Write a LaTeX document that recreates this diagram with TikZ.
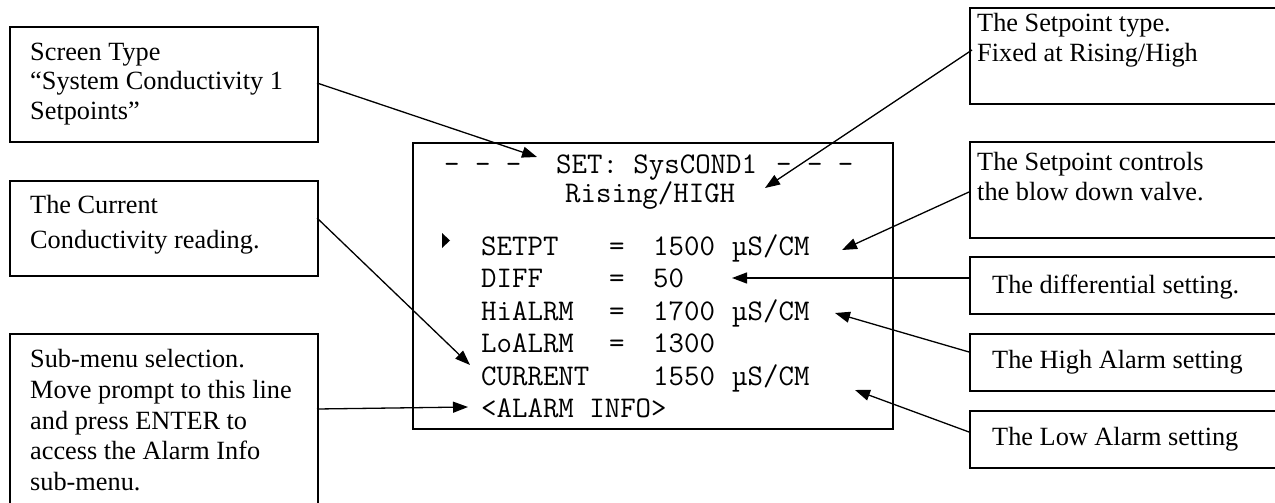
\documentclass[tikz,border=0pt]{standalone}
\usepackage{fontspec}
\setmainfont{Liberation Serif}
\usetikzlibrary{arrows.meta}
\begin{document}
\begin{tikzpicture}[x=1pt,y=-1pt,
  box/.style={draw,line width=1.8pt,rectangle,inner sep=0pt},
  lbl/.style={anchor=base west,inner sep=0pt,font=\fontsize{26.3}{30}\selectfont},
  mono/.style={anchor=base west,inner sep=0pt,font=\fontsize{30}{32}\ttfamily},
  arr/.style={line width=1.3pt,-{Triangle[length=15pt,width=11pt]}}]
\useasboundingbox (0,0) rectangle (1275,503);
% boxes
\node[box,anchor=north west,minimum width=308pt,minimum height=115pt] (A) at (9,26) {};
\node[box,anchor=north west,minimum width=308pt,minimum height=95pt] (B) at (9,180) {};
\node[box,anchor=north west,minimum width=308pt,minimum height=190pt] (C) at (9,333) {};
\node[box,anchor=north west,minimum width=480pt,minimum height=286pt] (S) at (412,142) {};
\node[box,anchor=north west,minimum width=330pt,minimum height=96pt] (R1) at (969,7) {};
\node[box,anchor=north west,minimum width=330pt,minimum height=96pt] (R2) at (969,141) {};
\node[box,anchor=north west,minimum width=330pt,minimum height=57pt] (R3) at (969,256) {};
\node[box,anchor=north west,minimum width=330pt,minimum height=57pt] (R4) at (969,333) {};
\node[box,anchor=north west,minimum width=330pt,minimum height=57pt] (R5) at (969,410) {};
% left texts
\node[lbl] (a1) at (30,60) {Screen Type};
\node[lbl] (a2) at (30,90) {“System Conductivity 1};
\node[lbl] (a3) at (30,119) {Setpoints”};
\node[lbl] (b1) at (30,213) {The Current};
\node[lbl] (b2) at (30,248) {Conductivity reading.};
\node[lbl] (c1) at (30,367) {Sub-menu selection.};
\node[lbl] (c2) at (30,398) {Move prompt to this line};
\node[lbl] (c3) at (30,429) {and press ENTER to};
\node[lbl] (c4) at (30,459) {access the Alarm Info};
\node[lbl] (c5) at (30,490) {sub-menu.};
% right texts
\node[lbl] (r1a) at (977,32) {The Setpoint type.};
\node[lbl] (r1b) at (977,62) {Fixed at Rising/High};
\node[lbl] (r2a) at (977,170) {The Setpoint controls};
\node[lbl] (r2b) at (977,200) {the blow down valve.};
\node[lbl] (r3) at (992,293) {The differential setting.};
\node[lbl] (r4) at (992,368) {The High Alarm setting};
\node[lbl] (r5) at (992,445) {The Low Alarm setting};
% screen texts
\node[mono] (t1) at (444,173) {- - -};
\node[mono] (t2) at (556,173) {SET: SysCOND1};
\node[mono] (t3) at (776,173) {- - -};
\node[mono] (t4) at (565,202) {Rising/HIGH};
\fill (442,233) -- (450,240.5) -- (442,248) -- cycle;
\node[mono] (l1) at (481,255) {SETPT};
\node[mono] (e1) at (609,255) {=};
\node[mono] (v1) at (653,255) {1500};
\node[mono] (u1) at (732,255) {µS/CM};
\node[mono] (l2) at (481,287.5) {DIFF};
\node[mono] (e2) at (609,287.5) {=};
\node[mono] (v2) at (653,287.5) {50};
\node[mono] (l3) at (481,320) {HiALRM};
\node[mono] (e3) at (609,320) {=};
\node[mono] (v3) at (653,320) {1700};
\node[mono] (u3) at (732,320) {µS/CM};
\node[mono] (l4) at (481,352.5) {LoALRM};
\node[mono] (e4) at (609,352.5) {=};
\node[mono] (v4) at (653,352.5) {1300};
\node[mono] (l5) at (481,385) {CURRENT};
\node[mono] (v5) at (653,385) {1550};
\node[mono] (u5) at (732,385) {µS/CM};
\node[mono] (l6) at (481,417) {<ALARM INFO>};
% arrow targets
\coordinate (pA) at (537,157);
\coordinate (pR1) at (765,188);
\coordinate (pR2) at (842,250);
\coordinate (pR3) at (732,278);
\coordinate (pR4) at (835,313);
\coordinate (pR5) at (855,390);
\coordinate (pB) at (470,365);
\coordinate (pC) at (468,407);
% arrow starts
\coordinate (sA) at (317,83);
\coordinate (sR1) at (972,50);
\coordinate (sR2) at (969,192);
\coordinate (sR3) at (969,278);
\coordinate (sR4) at (969,352);
\coordinate (sR5) at (969,432);
\coordinate (sB) at (317,218);
\coordinate (sC) at (317,409);
\draw[arr] (sA) -- (pA);
\draw[arr] (sR1) -- (pR1);
\draw[arr] (sR2) -- (pR2);
\draw[arr] (sR3) -- (pR3);
\draw[arr] (sR4) -- (pR4);
\draw[arr] (sR5) -- (pR5);
\draw[arr] (sB) -- (pB);
\draw[arr] (sC) -- (pC);
\end{tikzpicture}
\end{document}
